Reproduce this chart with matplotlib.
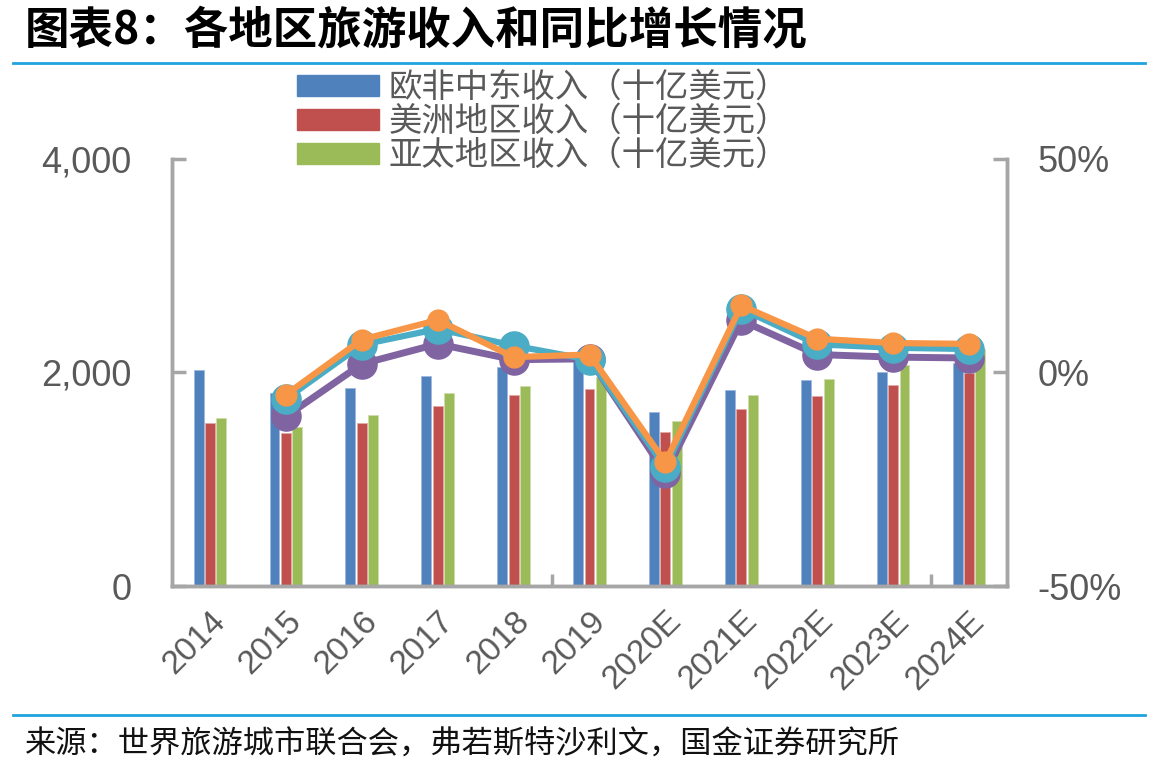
import numpy as np
import matplotlib
matplotlib.use("Agg")
import matplotlib.pyplot as plt
from matplotlib.lines import Line2D
from matplotlib.ticker import FuncFormatter, FixedLocator

plt.rcParams['font.family'] = ['Liberation Sans', 'Noto Sans CJK SC', 'DejaVu Sans']

years = ["2014", "2015", "2016", "2017", "2018", "2019",
         "2020E", "2021E", "2022E", "2023E", "2024E"]

# revenue, billion USD (left axis)
emea = [2021, 1811, 1852, 1970, 2049, 2117, 1627, 1833, 1930, 2002, 2086]
americas = [1524, 1430, 1524, 1683, 1786, 1845, 1443, 1658, 1777, 1883, 1995]
apac = [1571, 1487, 1602, 1805, 1874, 1961, 1546, 1789, 1939, 2070, 2217]

# YoY growth, % (right axis), starting 2015
growth_purple = [-10.3, 2.0, 6.7, 3.0, 3.2, -23.6, 12.2, 4.2, 3.6, 3.4]
growth_teal = [-6.2, 6.5, 10.2, 6.3, 3.0, -22.2, 14.9, 6.6, 5.8, 5.5]
growth_orange = [-5.2, 7.7, 12.3, 3.6, 4.2, -21.0, 15.7, 7.9, 6.9, 6.7]

legend_labels = ["欧非中东收入（十亿美元）", "美洲地区收入（十亿美元）", "亚太地区收入（十亿美元）"]

blue, red, green = "#4F81BD", "#C0504D", "#9BBB59"
purple, teal, orange = "#8064A2", "#4BACC6", "#F79646"
gray = "#595959"
spine_gray = "#A6A6A6"
rule_blue = "#1FA3DF"

fig = plt.figure(figsize=(11.67, 7.77), dpi=100)
ax = fig.add_axes([172 / 1167, 191 / 777, 835 / 1167, 427 / 777])

x = np.arange(len(years))
w = 0.13
off = 0.15
ax.bar(x - off, emea, w, color=blue, edgecolor="#9DB9DD", linewidth=0.6)
ax.bar(x, americas, w, color=red, edgecolor="#E3A9A7", linewidth=0.6)
ax.bar(x + off, apac, w, color=green, edgecolor="#CCDDAC", linewidth=0.6)

ax.set_xlim(-0.5, len(years) - 0.5)
ax.set_ylim(0, 4000)
ax.set_yticks([0, 2000, 4000])
ax.yaxis.set_major_formatter(FuncFormatter(lambda v, p: f"{int(v):,}"))
ax.set_xticks(x)
ax.set_xticklabels(years, rotation=45, ha="right", rotation_mode="anchor")
ax.xaxis.set_minor_locator(FixedLocator([4.5, 9.5]))
ax.tick_params(axis="x", which="major", length=0, pad=14, labelsize=24, colors=gray)
ax.tick_params(axis="x", which="minor", direction="in", length=9, width=2.5, color=spine_gray)
ax.tick_params(axis="y", direction="in", length=10, width=2.5, color=spine_gray,
               labelsize=26, labelcolor=gray, pad=29)

ax2 = ax.twinx()
xl = x[1:]
ax2.plot(xl, growth_purple, color=purple, lw=5, marker="o", ms=21, zorder=3)
ax2.plot(xl, growth_teal, color=teal, lw=4.5, marker="o", ms=21, zorder=4)
ax2.plot(xl, growth_orange, color=orange, lw=4.5, marker="o", ms=15, zorder=5)
ax2.set_ylim(-50, 50)
ax2.set_yticks([-50, 0, 50])
ax2.yaxis.set_major_formatter(FuncFormatter(lambda v, p: f"{int(v)}%"))
ax2.tick_params(axis="y", direction="in", length=10, width=2.5, color=spine_gray,
                labelsize=26, labelcolor=gray, pad=22)

for a in (ax, ax2):
    a.spines["top"].set_visible(False)
    for s in ("left", "right", "bottom"):
        a.spines[s].set_color(spine_gray)
        a.spines[s].set_linewidth(2.5)

handles = [plt.Rectangle((0, 0), 1, 1, color=c) for c in (blue, red, green)]
leg = fig.legend(handles, legend_labels, loc="upper left", bbox_to_anchor=(297 / 1167, 1 - 70 / 777),
                 frameon=False, handlelength=2.45, handleheight=0.6,
                 labelspacing=-0.03, handletextpad=0.3, borderaxespad=0, borderpad=0,
                 prop={"family": ["Noto Sans CJK SC"], "size": 24})
for t in leg.get_texts():
    t.set_color(gray)

fig.text(25 / 1167, 1 - 30 / 777, "图表8：各地区旅游收入和同比增长情况", fontsize=32,
         fontweight="bold", style="italic", va="center", ha="left",
         family=["Noto Sans CJK SC", "DejaVu Sans"])
fig.text(25 / 1167, 1 - 745 / 777, "来源：世界旅游城市联合会，弗若斯特沙利文，国金证券研究所",
         fontsize=22.5, va="center", ha="left", color="#111111",
         family=["Noto Sans CJK SC", "DejaVu Sans"])

for yy in (63, 715):
    fig.add_artist(Line2D([13 / 1167, 1145 / 1167], [1 - yy / 777] * 2,
                          color=rule_blue, lw=2, transform=fig.transFigure))

fig.savefig("out.png", dpi=100)
